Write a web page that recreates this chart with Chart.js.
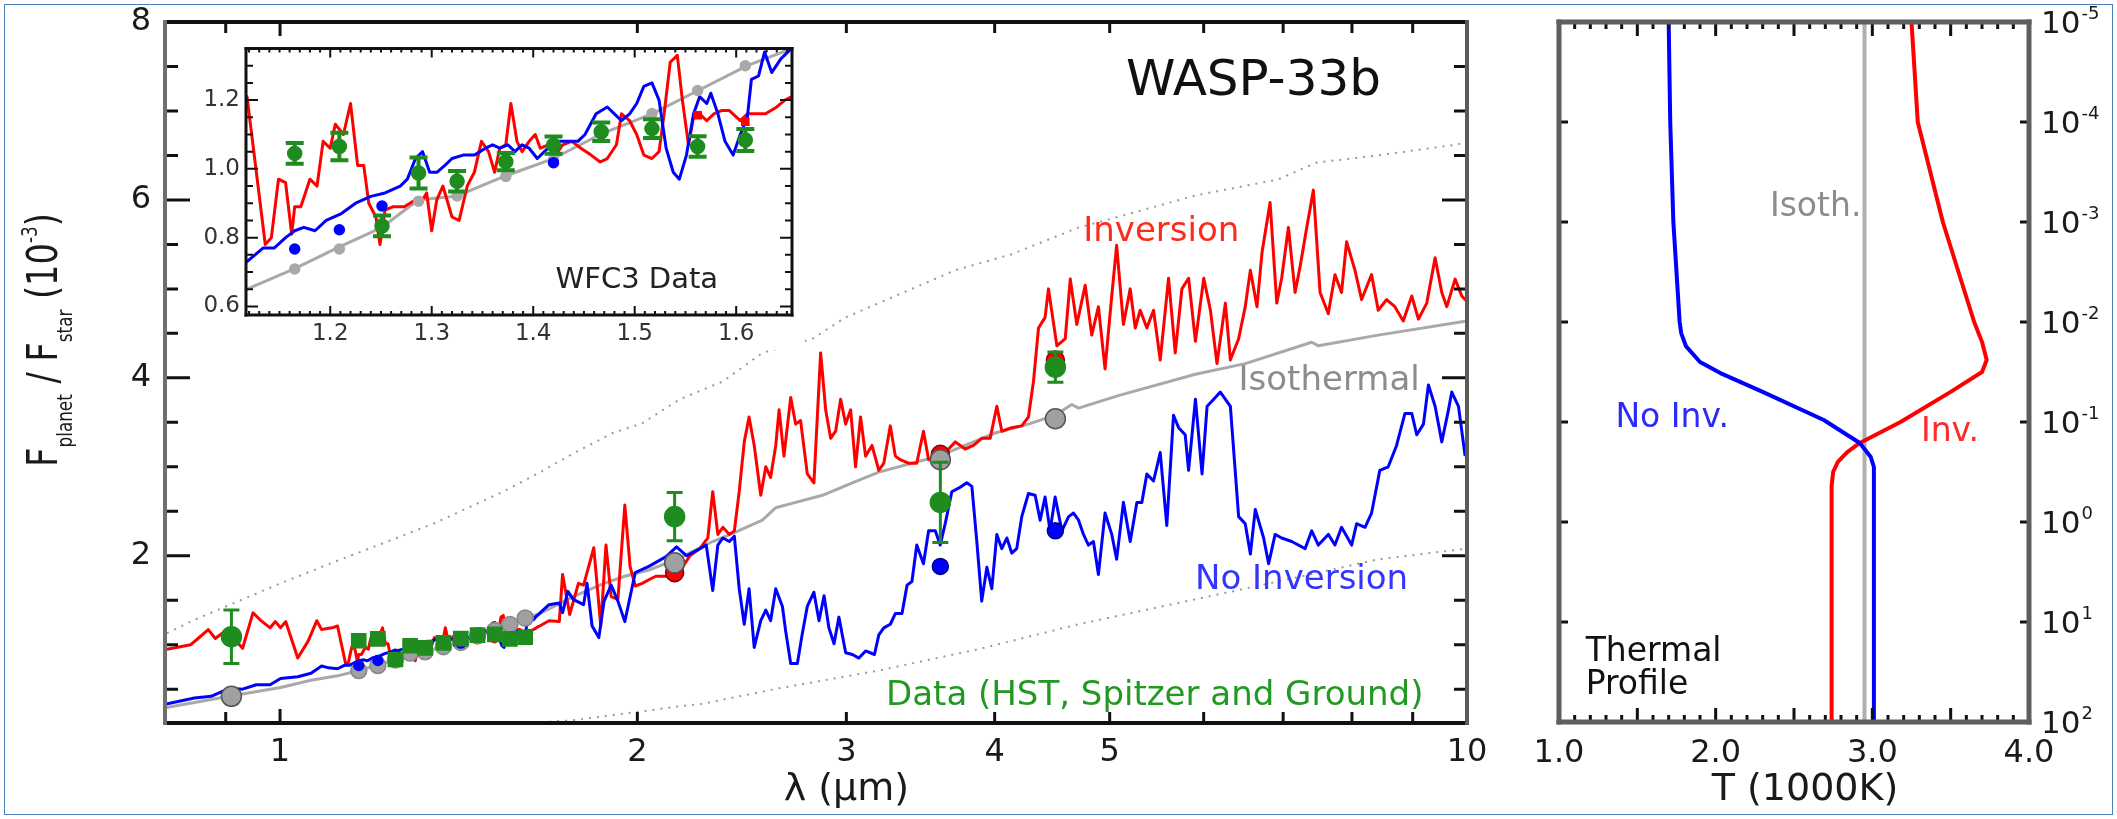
<!DOCTYPE html>
<html>
<head>
<meta charset="utf-8">
<script src="https://cdn.jsdelivr.net/npm/chart.js@4.4.0/dist/chart.umd.min.js"></script>
<style>
  html, body { margin: 0; padding: 0; background: #fff; }
  #page { position: relative; width: 2117px; height: 819px; overflow: hidden; background: #fff; }
  #outline { position: absolute; left: 4px; top: 4px; width: 2109px; height: 811px; border: 1px solid #4f81bd; box-sizing: border-box; }
  canvas { position: absolute; }
  #mainChart { left: 0; top: 0; }
  #insetChart { left: 190px; top: 40px; }
  #profileChart { left: 1500px; top: 0; }
</style>
</head>
<body>
<div id="page">
  <div id="outline"></div>
  <canvas id="mainChart" width="1500" height="819"></canvas>
  <canvas id="insetChart" width="615" height="310"></canvas>
  <canvas id="profileChart" width="617" height="819"></canvas>
</div>
<script>
// ---------- spectra (wavelength in micron, Fplanet/Fstar in 1e-3) ----------
const invWavelength = [0.803,0.841,0.853,0.870,0.882,0.894,0.906,0.930,0.949,0.962,0.981,0.991,1.001,1.011,1.021,1.035,1.056,1.074,1.084,1.106,
  1.118,1.136,1.142,1.149,1.156,1.162,1.165,1.171,1.180,1.187,1.193,1.200,1.205,1.213,1.220,1.227,1.233,1.238,1.245,1.249,1.254,1.262,1.273,1.284,1.289,1.295,1.300,1.305,1.311,1.320,1.327,1.335,1.342,1.349,1.356,1.362,1.367,1.373,1.378,1.384,1.389,1.396,1.402,1.407,1.415,1.422,1.429,1.438,1.447,1.457,1.466,1.473,1.482,1.487,1.495,1.502,1.509,1.517,1.524,1.529,1.535,1.542,1.547,1.553,1.558,1.564,1.571,1.578,1.586,1.593,1.604,1.611,1.619,1.629,1.640,1.648,1.655,
  1.685,1.719,1.730,1.754,1.784,1.802,1.838,1.863,1.882,1.901,1.926,1.952,1.972,1.992,2.019,2.045,2.073,2.129,2.158,
  2.173,2.215,2.258,2.293,2.315,2.338,2.361,2.391,2.414,2.437,2.461,2.484,2.509,2.541,2.566,2.590,2.616,2.633,2.658,2.693,2.719,2.745,2.781,2.817,2.854,2.882,2.910,2.938,2.967,2.996,3.025,3.054,3.084,3.114,3.153,3.195,3.226,3.267,3.299,3.331,3.384,3.439,3.484,3.519,3.588,3.658,3.706,3.777,3.839,3.901,3.965,4.017,4.056,4.135,4.216,4.271,4.313,4.355,4.411,4.440,4.513,4.587,4.632,4.691,
  4.768,4.829,4.892,4.955,5.020,5.068,5.135,5.203,5.254,5.305,5.374,5.444,5.515,5.605,5.678,5.752,5.827,5.905,6.001,6.079,6.157,6.258,6.319,6.421,6.504,6.569,6.654,6.719,6.825,6.914,6.980,7.072,7.164,7.234,7.328,7.423,7.520,7.641,7.740,7.840,7.917,8.046,8.151,8.310,8.418,8.555,8.694,8.837,8.984,9.101,9.249,9.400,9.523,9.616,9.772,9.899,9.995];
const invFlux = [0.95,1.00,1.07,1.17,1.07,1.13,1.13,0.96,1.36,1.28,1.19,1.26,1.19,1.26,1.09,0.85,1.04,1.27,1.17,1.19,
  1.21,0.78,0.80,0.97,0.96,0.81,0.89,0.89,0.97,0.95,1.08,1.06,1.13,1.10,1.19,1.01,1.01,0.90,0.86,0.78,0.88,0.89,0.89,0.91,0.90,0.93,0.82,0.91,0.95,0.86,0.85,0.95,0.99,1.08,1.05,0.99,1.06,1.07,1.19,1.08,1.05,1.08,1.10,1.06,1.07,1.04,1.07,1.08,1.06,1.04,1.02,1.03,1.07,1.16,1.14,1.10,1.04,1.03,1.05,1.16,1.31,1.33,1.20,1.07,1.15,1.16,1.14,1.16,1.17,1.17,1.14,1.16,1.16,1.16,1.18,1.20,1.21,
  1.27,1.26,1.79,1.34,1.69,1.67,2.09,1.21,2.12,1.54,1.51,2.57,1.88,1.66,1.69,1.73,1.77,1.77,1.77,
  1.83,2.00,2.08,2.20,2.72,2.24,2.32,2.24,2.28,2.72,3.28,3.56,3.24,2.68,3.00,2.88,3.24,3.64,3.12,3.78,3.48,3.52,2.92,2.82,4.28,3.64,3.32,3.40,3.76,3.48,3.64,3.00,3.56,3.12,3.24,2.96,3.04,3.46,3.12,3.08,3.04,3.04,3.40,3.08,3.12,3.20,3.28,3.20,3.24,3.32,3.32,3.68,3.40,3.44,3.46,3.56,3.96,4.56,4.68,5.00,4.36,4.44,5.11,4.60,
  5.04,4.48,4.80,4.10,4.92,5.49,4.60,5.00,4.56,4.76,4.56,4.76,4.20,5.12,4.28,5.00,5.12,4.41,5.12,4.76,4.16,4.84,4.20,4.44,4.80,5.21,4.80,5.41,5.97,4.84,5.12,5.69,4.96,5.25,5.69,6.11,4.96,4.72,5.16,4.96,5.53,5.21,4.88,5.16,4.76,4.88,4.80,4.64,4.92,4.66,4.84,5.35,4.96,4.80,5.11,4.92,4.86];

const noInvWavelength = [0.800,0.847,0.875,0.906,0.930,0.955,0.981,1.001,1.035,1.062,1.084,1.099,
  1.118,1.134,1.145,1.156,1.165,1.174,1.185,1.196,1.211,1.225,1.240,1.254,1.269,1.276,1.284,1.291,1.298,1.305,1.313,1.320,1.331,1.342,1.353,1.360,1.367,1.375,1.382,1.389,1.396,1.404,1.411,1.418,1.426,1.433,1.444,1.451,1.462,1.473,1.480,1.487,1.495,1.502,1.509,1.517,1.524,1.531,1.538,1.544,1.551,1.558,1.564,1.571,1.575,1.582,1.589,1.597,1.604,1.611,1.615,1.622,1.628,1.635,1.644,1.651,
  1.685,1.719,1.730,1.748,1.766,1.802,1.814,1.832,1.856,1.875,1.901,1.926,1.952,1.978,1.992,2.045,2.115,2.158,
  2.201,2.258,2.286,2.315,2.338,2.361,2.391,2.414,2.437,2.461,2.484,2.509,2.541,2.566,2.590,2.616,2.650,2.667,2.693,2.728,2.753,2.781,2.817,2.845,2.873,2.900,2.929,2.957,2.996,3.035,3.074,3.114,3.168,3.195,3.226,3.267,3.299,3.342,3.375,3.407,3.439,3.484,3.519,3.565,3.599,3.634,3.681,3.730,3.790,3.827,3.864,3.901,3.940,3.978,4.017,4.056,4.096,4.135,4.175,4.216,4.271,4.327,4.369,4.411,4.454,4.498,4.557,4.617,4.661,4.707,
  4.752,4.798,4.845,4.892,4.955,5.020,5.068,5.135,5.203,5.271,5.322,5.374,5.444,5.515,5.586,5.659,5.715,5.789,5.827,5.905,5.981,6.040,6.118,6.197,6.319,6.421,6.504,6.569,6.632,6.740,6.806,6.892,6.980,7.118,7.305,7.399,7.495,7.641,7.740,7.840,7.995,8.072,8.205,8.310,8.444,8.583,8.723,8.866,8.984,9.071,9.190,9.279,9.400,9.523,9.647,9.709,9.836,9.964];
const noInvFlux = [0.33,0.40,0.42,0.51,0.50,0.55,0.55,0.62,0.64,0.68,0.76,0.74,
  0.73,0.77,0.77,0.80,0.82,0.83,0.82,0.85,0.87,0.90,0.92,0.93,0.95,0.97,1.03,1.05,0.99,0.99,1.01,1.03,1.04,1.04,1.06,1.07,1.06,1.07,1.05,1.07,1.06,1.03,1.05,1.07,1.08,1.08,1.08,1.10,1.16,1.18,1.16,1.14,1.16,1.19,1.24,1.25,1.20,1.06,0.99,0.97,1.04,1.16,1.21,1.19,1.22,1.16,1.08,1.04,1.10,1.15,1.26,1.27,1.34,1.28,1.32,1.34,
  1.45,1.47,1.36,1.60,1.51,1.45,1.69,1.21,1.08,1.49,1.67,1.49,1.26,1.62,1.81,1.88,1.99,2.10,
  2.00,2.08,2.12,1.61,2.12,2.20,2.16,2.22,1.63,1.23,1.63,0.97,1.27,1.39,1.27,1.63,1.43,1.15,0.79,0.79,1.11,1.43,1.59,1.27,1.55,1.19,1.01,1.31,0.91,0.89,0.85,0.93,0.89,1.11,1.19,1.23,1.35,1.35,1.67,1.71,2.12,1.91,2.28,2.28,2.12,2.36,2.72,2.76,2.82,2.78,2.16,1.49,1.87,1.63,2.24,2.08,2.20,2.03,2.08,2.44,2.70,2.68,2.40,2.66,2.28,2.66,2.28,2.44,2.48,2.40,
  2.24,2.12,2.16,1.79,2.48,2.24,1.96,2.60,2.16,2.60,2.60,2.92,2.84,3.16,2.34,3.58,3.44,3.36,2.96,3.76,2.92,3.68,3.76,3.84,3.68,2.44,2.36,2.02,2.52,2.20,1.91,2.24,2.20,2.16,2.08,2.28,2.12,2.24,2.12,2.32,2.12,2.36,2.32,2.48,2.96,3.00,3.24,3.60,3.60,3.36,3.48,3.92,3.68,3.28,3.64,3.84,3.68,3.12];

const isoWavelength = [0.800,0.906,1.001,1.062,1.118,1.165,1.207,1.251,1.287,1.324,1.373,1.420,1.466,1.517,1.564,1.611,1.655,1.766,1.875,1.952,2.045,2.158,2.315,2.414,2.549,2.616,2.719,2.864,3.035,3.195,3.407,3.588,3.777,4.003,4.271,4.498,4.646,4.707,5.084,5.905,6.504,7.399,7.495,8.418,9.995];
const isoFlux = [0.29,0.42,0.52,0.60,0.65,0.71,0.77,0.83,0.91,0.92,0.98,1.03,1.10,1.16,1.23,1.30,1.35,1.54,1.69,1.77,1.84,1.96,2.16,2.26,2.40,2.54,2.60,2.68,2.82,2.94,3.04,3.12,3.24,3.38,3.48,3.58,3.70,3.66,3.80,4.04,4.16,4.40,4.36,4.48,4.64];

const upperWavelength = [0.803,0.847,0.930,1.001,1.106,1.265,1.352,1.446,1.541,1.652,1.766,1.907,2.019,2.173,2.361,2.549,2.810,2.996,3.299,3.706,4.135,4.707,5.084,5.905,6.930,7.470,8.400,9.780,10.0];
const upperFlux = [1.13,1.28,1.51,1.69,1.92,2.22,2.37,2.55,2.72,2.93,3.15,3.38,3.49,3.76,3.96,4.28,4.44,4.68,4.92,5.21,5.39,5.69,5.81,6.05,6.23,6.42,6.50,6.62,6.65];
const lowerWavelength = [1.609,1.766,1.907,2.019,2.173,2.258,2.633,3.195,3.876,4.707,5.715,6.930,8.418,9.995];
const lowerFlux = [0.12,0.15,0.21,0.25,0.31,0.33,0.51,0.71,0.95,1.23,1.47,1.71,1.96,2.08];

// ---------- observations ----------
const photWavelength = [0.91, 2.15, 3.6, 4.5];
const photFlux = [1.09, 2.44, 2.60, 4.12];
const photError = [0.30, 0.27, 0.45, 0.17];

const wfc3Wavelength = [1.165,1.209,1.251,1.287,1.325,1.373,1.420,1.467,1.517,1.562,1.609];
const wfc3Flux = [1.045,1.065,0.834,0.988,0.964,1.021,1.069,1.108,1.117,1.065,1.084];
const wfc3Error = [0.030,0.040,0.030,0.045,0.030,0.025,0.025,0.027,0.027,0.030,0.032];
const wfc3IsoBinned = [0.709,0.767,0.829,0.906,0.921,0.978,1.026,1.100,1.161,1.228,1.300];
const wfc3NoInvBinned = [0.767,0.823,0.892,null,null,null,1.018,null,null,null,null];
const wfc3InvBinned = [null,null,null,null,null,null,null,null,null,1.156,1.137];

// model values binned to the photometric bands
const bandWavelength = [0.91, 2.15, 3.6, 4.5];
const bandIso = [0.42, 1.92, 3.08, 3.54];
const bandInv = [null, 1.81, 3.14, 4.20];
const bandNoInv = [null, null, 1.88, 2.28];

// ---------- thermal profiles (T in 1000 K, pressure in bar) ----------
const invPressure = [1e-5,1e-4,1e-3,1e-2,0.0158,0.024,0.0316,0.05,0.1,0.162,0.2,0.251,0.316,0.437,100];
const invTemp = [3.25,3.29,3.45,3.65,3.70,3.73,3.70,3.50,3.18,2.92,2.84,2.78,2.75,2.74,2.74];
const noInvPressure = [1e-5,1e-4,1e-3,1e-2,0.0129,0.0174,0.0251,0.0324,0.05,0.0955,0.162,0.224,0.282,100];
const noInvTemp = [1.70,1.71,1.73,1.77,1.78,1.81,1.90,2.03,2.30,2.69,2.92,2.99,3.01,3.01];
const isoPressure = [1e-5, 100];
const isoTemp = [2.95, 2.95];

// ---------- axis ticks ----------
const mainXLabels = [1, 2, 3, 4, 5, 10];
const mainXMinor = [0.9, 1, 2, 3, 4, 5, 6, 7, 8, 9];
const mainYLabels = [2, 4, 6, 8];
const insetXLabels = [1.2, 1.3, 1.4, 1.5, 1.6];
const insetYLabels = [0.6, 0.8, 1.0, 1.2];
const tempLabels = [1, 2, 3, 4];
const pressureLabels = [1e-5, 1e-4, 1e-3, 1e-2, 1e-1, 1, 10, 100];
const pressureExponents = ['-5', '-4', '-3', '-2', '-1', '0', '1', '2'];

const FONT = '"DejaVu Sans", "Open Sans", sans-serif';
const RED = '#ff0000', BLUE = '#0000ff', GRAY = '#a9a9a9', GREEN = '#1f8c1f';

let xy = (xs, ys) => xs.map((x, i) => ({x: x, y: ys[i]}));

let lineSet = (xs, ys, color, width, dash) => ({
  data: xy(xs, ys), showLine: true, borderColor: color, borderWidth: width,
  borderDash: dash || [], pointRadius: 0, tension: 0, borderJoinStyle: 'round', fill: false
});

let markerSet = (xs, ys, fill, border, radius, style) => ({
  data: xy(xs, ys), showLine: false, pointRadius: radius, pointStyle: style || 'circle',
  backgroundColor: fill, borderColor: border, borderWidth: 1.5
});

// error bars go under the point of the same dataset
const errorBars = {
  id: 'errorBars',
  beforeDatasetDraw(chart, args) {
    const ds = chart.data.datasets[args.index];
    if (!ds.errors) return;
    const {ctx, scales: {x, y}} = chart;
    ctx.save();
    ctx.strokeStyle = ds.errorColor;
    ctx.lineWidth = ds.errorWidth;
    ds.data.forEach((p, i) => {
      const px = x.getPixelForValue(p.x);
      const lo = y.getPixelForValue(p.y - ds.errors[i]);
      const hi = y.getPixelForValue(p.y + ds.errors[i]);
      ctx.beginPath();
      ctx.moveTo(px, lo); ctx.lineTo(px, hi);
      ctx.moveTo(px - ds.capSize, lo); ctx.lineTo(px + ds.capSize, lo);
      ctx.moveTo(px - ds.capSize, hi); ctx.lineTo(px + ds.capSize, hi);
      ctx.stroke();
    });
    ctx.restore();
  }
};

// inward ticks and the box
let frameTicks = (cfg) => ({
  id: 'frameTicks',
  afterDatasetsDraw(chart) {
    const {ctx, chartArea: a, scales: {x, y}} = chart;
    ctx.save();
    ctx.strokeStyle = '#111';
    ctx.lineWidth = cfg.tickWidth;
    ctx.beginPath();
    cfg.xTicks.forEach(([v, len]) => {
      const px = x.getPixelForValue(v);
      ctx.moveTo(px, a.bottom); ctx.lineTo(px, a.bottom - len);
      ctx.moveTo(px, a.top); ctx.lineTo(px, a.top + len);
    });
    cfg.yTicks.forEach(([v, len]) => {
      const py = y.getPixelForValue(v);
      ctx.moveTo(a.left, py); ctx.lineTo(a.left + len, py);
      ctx.moveTo(a.right, py); ctx.lineTo(a.right - len, py);
    });
    ctx.stroke();
    const sides = [
      [cfg.frame.top, a.left, a.top, a.right, a.top],
      [cfg.frame.bottom, a.left, a.bottom, a.right, a.bottom],
      [cfg.frame.left, a.left, a.top, a.left, a.bottom],
      [cfg.frame.right, a.right, a.top, a.right, a.bottom]
    ];
    ctx.lineCap = 'square';
    sides.forEach(([c, x1, y1, x2, y2]) => {
      ctx.strokeStyle = c;
      ctx.lineWidth = cfg.frame.width;
      ctx.beginPath(); ctx.moveTo(x1, y1); ctx.lineTo(x2, y2); ctx.stroke();
    });
    ctx.restore();
  }
});

let texts = (items) => ({
  id: 'texts',
  afterDraw(chart) {
    const {ctx, scales: {x, y}} = chart;
    ctx.save();
    ctx.textBaseline = 'middle';
    items.forEach(t => {
      ctx.font = t.font;
      ctx.fillStyle = t.color;
      ctx.textAlign = t.align || 'left';
      ctx.fillText(t.text, x.getPixelForValue(t.x), t.py !== undefined ? t.py : y.getPixelForValue(t.y));
    });
    ctx.restore();
  }
});

const whiteBack = {
  id: 'whiteBack',
  beforeDraw(chart) {
    const {ctx, width, height} = chart;
    ctx.save(); ctx.fillStyle = '#fff'; ctx.fillRect(0, 0, width, height); ctx.restore();
  }
};

// rotated y title with sub/superscripts
const mainYTitle = {
  id: 'mainYTitle',
  afterDraw(chart) {
    const {ctx} = chart;
    const big = '42px ' + FONT, small = '21px ' + FONT;
    const parts = [
      ['F', big, 0], ['planet', small, 15], [' / ', big, 0], ['F', big, 0], ['star', small, 15],
      [' (10', big, 0], ['-3', small, -20], [')', big, 0]
    ];
    const squeeze = 0.8;
    ctx.save();
    let total = 0;
    parts.forEach(p => { ctx.font = p[1]; total += ctx.measureText(p[0]).width; });
    ctx.translate(57, 340 + total * squeeze / 2);
    ctx.rotate(-Math.PI / 2);
    ctx.scale(squeeze, 1);
    ctx.fillStyle = '#1a1a1a';
    ctx.textBaseline = 'alphabetic';
    let cx = 0;
    parts.forEach(p => {
      ctx.font = p[1];
      ctx.fillText(p[0], cx, p[2]);
      cx += ctx.measureText(p[0]).width;
    });
    ctx.restore();
  }
};

const pressureTickText = {
  id: 'pressureTickText',
  afterDraw(chart) {
    const {ctx, chartArea: a, scales: {y}} = chart;
    ctx.save();
    ctx.fillStyle = '#1a1a1a';
    ctx.textBaseline = 'alphabetic';
    ctx.textAlign = 'left';
    pressureLabels.forEach((p, i) => {
      const py = y.getPixelForValue(p) + 11;
      ctx.font = '31px ' + FONT;
      ctx.fillText('10', a.right + 12, py);
      const w = ctx.measureText('10').width;
      ctx.font = '18px ' + FONT;
      ctx.fillText(pressureExponents[i], a.right + 13 + w, py - 14);
    });
    ctx.restore();
  }
};

let range = (from, to, step) => {
  const out = [];
  for (let v = from; v <= to + 1e-9; v += step) out.push(Math.round(v * 1000) / 1000);
  return out;
};

// fixed axis box sizes, no automatic label padding
let fixX = h => s => { s.height = h; s.paddingLeft = 0; s.paddingRight = 0; };
let fixY = w => s => { s.width = w; s.paddingTop = 0; s.paddingBottom = 0; };

const common = {
  responsive: false,
  animation: false,
  events: [],
  plugins: {legend: {display: false}, tooltip: {enabled: false}}
};

// ---------------- main spectrum ----------------
const photSet = markerSet(photWavelength, photFlux, GREEN, GREEN, 10);
photSet.errors = photError; photSet.errorColor = GREEN; photSet.errorWidth = 3; photSet.capSize = 8;

new Chart(document.getElementById('mainChart'), {
  type: 'scatter',
  data: {
    datasets: [
      photSet,
      markerSet(wfc3Wavelength, wfc3Flux, GREEN, GREEN, 10, 'rect'),
      markerSet(bandWavelength, bandNoInv, BLUE, '#000080', 8),
      markerSet(wfc3Wavelength, wfc3NoInvBinned, BLUE, BLUE, 5),
      markerSet(bandWavelength, bandIso, '#a0a0a0', '#555', 10),
      markerSet(bandWavelength, bandInv, RED, '#800000', 9),
      markerSet(wfc3Wavelength, wfc3IsoBinned, '#a0a0a0', '#888', 8),
      lineSet(noInvWavelength, noInvFlux, BLUE, 3),
      lineSet(invWavelength, invFlux, RED, 3),
      lineSet(isoWavelength, isoFlux, GRAY, 3),
      lineSet(upperWavelength, upperFlux, '#9a9a9a', 2, [2, 6]),
      lineSet(lowerWavelength, lowerFlux, '#9a9a9a', 2, [2, 6])
    ]
  },
  options: {
    ...common,
    layout: {padding: {top: 22, right: 33, left: 0, bottom: 0}},
    scales: {
      x: {
        type: 'logarithmic', min: 0.8, max: 10,
        afterFit: fixX(96),
        afterBuildTicks: s => { s.ticks = mainXLabels.map(v => ({value: v})); },
        grid: {display: false, drawTicks: false}, border: {display: false},
        ticks: {autoSkip: false, maxRotation: 0, padding: 10, color: '#1a1a1a', font: {family: FONT, size: 32},
          callback: v => String(v)}
      },
      y: {
        min: 0.12, max: 8,
        afterFit: fixY(165),
        afterBuildTicks: s => { s.ticks = mainYLabels.map(v => ({value: v})); },
        grid: {display: false, drawTicks: false}, border: {display: false},
        ticks: {padding: 14, color: '#1a1a1a', font: {family: FONT, size: 32}, callback: v => String(v)}
      }
    }
  },
  plugins: [
    errorBars,
    frameTicks({
      tickWidth: 3,
      frame: {width: 4, top: '#111', bottom: '#111', left: '#6e6e6e', right: '#5a5a5a'},
      xTicks: mainXMinor.map(v => [v, v === 1 ? 14 : 11]),
      yTicks: range(0.5, 7.5, 0.5).map(v => [v, v % 2 === 0 ? 25 : 13])
    }),
    texts([
      {text: 'WASP-33b', x: 5.16, y: 7.33, color: '#111', font: '50px ' + FONT},
      {text: 'Inversion', x: 4.75, y: 5.64, color: '#ff2a1a', font: '34px ' + FONT},
      {text: 'Isothermal', x: 6.42, y: 3.96, color: '#8c8c8c', font: '34px ' + FONT},
      {text: 'No Inversion', x: 5.90, y: 1.73, color: '#3434ff', font: '34px ' + FONT},
      {text: 'Data (HST, Spitzer and Ground)', x: 3.24, y: 0.42, color: '#229922', font: '34px ' + FONT},
      {text: 'λ (µm)', x: 3.0, py: 790, color: '#1a1a1a', font: '38px ' + FONT, align: 'center'}
    ]),
    mainYTitle
  ]
});

// ---------------- WFC3 inset ----------------
const wfc3Set = markerSet(wfc3Wavelength, wfc3Flux, GREEN, GREEN, 7);
wfc3Set.errors = wfc3Error; wfc3Set.errorColor = GREEN; wfc3Set.errorWidth = 4; wfc3Set.capSize = 9;

new Chart(document.getElementById('insetChart'), {
  type: 'scatter',
  data: {
    datasets: [
      wfc3Set,
      markerSet(wfc3Wavelength, wfc3InvBinned, RED, RED, 5, 'rect'),
      markerSet(wfc3Wavelength, wfc3NoInvBinned, BLUE, BLUE, 5),
      markerSet(wfc3Wavelength, wfc3IsoBinned, '#a8a8a8', '#a8a8a8', 5),
      lineSet(noInvWavelength, noInvFlux, BLUE, 3),
      lineSet(invWavelength, invFlux, RED, 3),
      lineSet(isoWavelength, isoFlux, GRAY, 3)
    ]
  },
  options: {
    ...common,
    layout: {padding: {top: 7, right: 13, left: 0, bottom: 0}},
    scales: {
      x: {
        min: 1.117, max: 1.655,
        afterFit: fixX(35),
        afterBuildTicks: s => { s.ticks = insetXLabels.map(v => ({value: v})); },
        grid: {display: false, drawTicks: false}, border: {display: false},
        ticks: {autoSkip: false, maxRotation: 0, padding: 5, color: '#333', font: {family: FONT, size: 23},
          callback: v => v.toFixed(1)}
      },
      y: {
        min: 0.575, max: 1.35,
        afterFit: fixY(56),
        afterBuildTicks: s => { s.ticks = insetYLabels.map(v => ({value: v})); },
        grid: {display: false, drawTicks: false}, border: {display: false},
        ticks: {padding: 6, color: '#333', font: {family: FONT, size: 23}, callback: v => v.toFixed(1)}
      }
    }
  },
  plugins: [
    whiteBack,
    errorBars,
    frameTicks({
      tickWidth: 2,
      frame: {width: 3, top: '#111', bottom: '#111', left: '#111', right: '#111'},
      xTicks: range(1.12, 1.65, 0.01).map(v => [v, Math.abs(v * 10 - Math.round(v * 10)) < 1e-6 ? 9 : 4]),
      yTicks: range(0.6, 1.35, 0.05).map(v => [v, Math.abs(v * 5 - Math.round(v * 5)) < 1e-6 ? 12 : 7])
    }),
    texts([
      {text: 'WFC3 Data', x: 1.422, y: 0.676, color: '#222', font: '29px ' + FONT}
    ])
  ]
});

// ---------------- thermal profile ----------------
new Chart(document.getElementById('profileChart'), {
  type: 'scatter',
  data: {
    datasets: [
      lineSet(noInvTemp, noInvPressure, BLUE, 4),
      lineSet(invTemp, invPressure, RED, 4),
      lineSet(isoTemp, isoPressure, '#b0b0b0', 4)
    ]
  },
  options: {
    ...common,
    layout: {padding: {top: 22, right: 0, left: 59, bottom: 0}},
    scales: {
      x: {
        min: 1, max: 4,
        afterFit: fixX(97),
        afterBuildTicks: s => { s.ticks = tempLabels.map(v => ({value: v})); },
        grid: {display: false, drawTicks: false}, border: {display: false},
        ticks: {autoSkip: false, maxRotation: 0, padding: 12, color: '#1a1a1a', font: {family: FONT, size: 32},
          callback: v => v.toFixed(1)}
      },
      y: {
        type: 'logarithmic', position: 'right', reverse: true, min: 1e-5, max: 100,
        afterFit: fixY(88),
        afterBuildTicks: s => { s.ticks = pressureLabels.map(v => ({value: v})); },
        grid: {display: false, drawTicks: false}, border: {display: false},
        ticks: {display: false}
      }
    }
  },
  plugins: [
    frameTicks({
      tickWidth: 3,
      frame: {width: 5, top: '#5f5f5f', bottom: '#5f5f5f', left: '#5f5f5f', right: '#5f5f5f'},
      xTicks: range(1.1, 3.9, 0.1).map(v => [v, Math.abs(v * 2 - Math.round(v * 2)) < 1e-6 ? 14 : 7]),
      yTicks: pressureLabels.slice(1, -1).map(v => [v, 9])
    }),
    pressureTickText,
    texts([
      {text: 'Isoth.', x: 2.93, y: 7.2e-4, color: '#8c8c8c', font: '33px ' + FONT, align: 'right'},
      {text: 'No Inv.', x: 1.36, y: 0.093, color: '#2a2aff', font: '33px ' + FONT},
      {text: 'Inv.', x: 3.31, y: 0.126, color: '#ff2a2a', font: '33px ' + FONT},
      {text: 'Thermal', x: 1.17, y: 20, color: '#111', font: '33px ' + FONT},
      {text: 'Profile', x: 1.17, y: 43, color: '#111', font: '33px ' + FONT},
      {text: 'T (1000K)', x: 2.57, py: 790, color: '#1a1a1a', font: '38px ' + FONT, align: 'center'}
    ])
  ]
});
</script>
</body>
</html>
